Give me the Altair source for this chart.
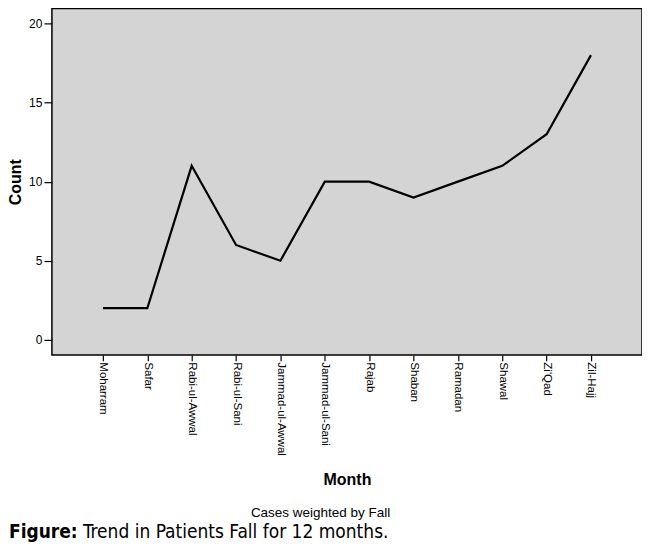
import altair as alt
import pandas as pd
import json

months = ["Moharram", "Safar", "Rabi-ul-Awwal", "Rabi-ul-Sani", "Jammad-ul-Awwal",
          "Jammad-ul-Sani", "Rajab", "Shaban", "Ramadan", "Shawal", "Zi'Qad", "Zil-Hajj"]
counts = [2, 2, 11, 6, 5, 10, 10, 9, 10, 11, 13, 18]
y_ticks = [0, 5, 10, 15, 20]

idx = list(range(len(months)))
df = pd.DataFrame({"idx": idx, "Month": months, "Count": counts})
label_expr = json.dumps(months) + "[round(datum.value)]"

W, H = 591, 347
pad = 1.15

line = alt.Chart(df).mark_line(color="black", strokeWidth=2.2).encode(
    x=alt.X("idx:Q",
            scale=alt.Scale(domain=[-pad, len(months) - 1 + pad], nice=False, zero=False),
            axis=alt.Axis(title="Month", values=idx, labelExpr=label_expr,
                          labelAngle=90, labelAlign="left", labelBaseline="middle",
                          labelFont="Liberation Sans", labelFontSize=11.5, labelColor="black",
                          labelPadding=1, labelFlush=False, labelOverlap=False,
                          tickSize=6, tickColor="black", tickWidth=1.2,
                          domain=False, grid=False,
                          titleFont="Liberation Sans", titleFontSize=16, titleFontWeight="bold",
                          titleColor="black", titleBaseline="alphabetic", titleY=130)),
    y=alt.Y("Count:Q", scale=alt.Scale(domain=[-0.95, 20.95], nice=False, zero=False),
            axis=alt.Axis(title="Count", values=y_ticks, labelFont="Liberation Sans",
                          labelFontSize=12, labelColor="black", labelPadding=2,
                          tickSize=8, tickColor="black", tickWidth=1.2,
                          domain=False, grid=False,
                          titleFont="Liberation Sans", titleFontSize=16, titleFontWeight="bold",
                          titleColor="black", titleBaseline="alphabetic", titleX=-31)),
)

note = alt.Chart(alt.Data(values=[{"t": "Cases weighted by Fall"}])).mark_text(
    font="Liberation Sans", fontSize=13.5, color="black", align="center", baseline="alphabetic"
).encode(text="t:N", x=alt.value(269), y=alt.value(509))

cap_font = "DejaVu Sans Condensed, Roboto Condensed, Liberation Sans Narrow, Roboto"

fig_bold = alt.Chart(alt.Data(values=[{"t": "Figure:"}])).mark_text(
    font=cap_font, fontSize=19, fontWeight="bold", color="black",
    align="left", baseline="alphabetic"
).encode(text="t:N", x=alt.value(-43), y=alt.value(530))

fig_rest = alt.Chart(alt.Data(values=[{"t": "Trend in Patients Fall for 12 months."}])).mark_text(
    font=cap_font, fontSize=19, color="black",
    align="left", baseline="alphabetic"
).encode(text="t:N", x=alt.value(31), y=alt.value(530))

chart = alt.layer(line, note, fig_bold, fig_rest).properties(
    width=W, height=H,
    autosize=alt.AutoSizeParams(type="none"),
    padding={"left": 44, "top": 0, "right": 0, "bottom": 190},
).configure(background="white").configure_view(fill="#d4d4d4", stroke="black", strokeWidth=1.5)

chart.save("out.html", embed_options={"renderer": "svg", "actions": False})
